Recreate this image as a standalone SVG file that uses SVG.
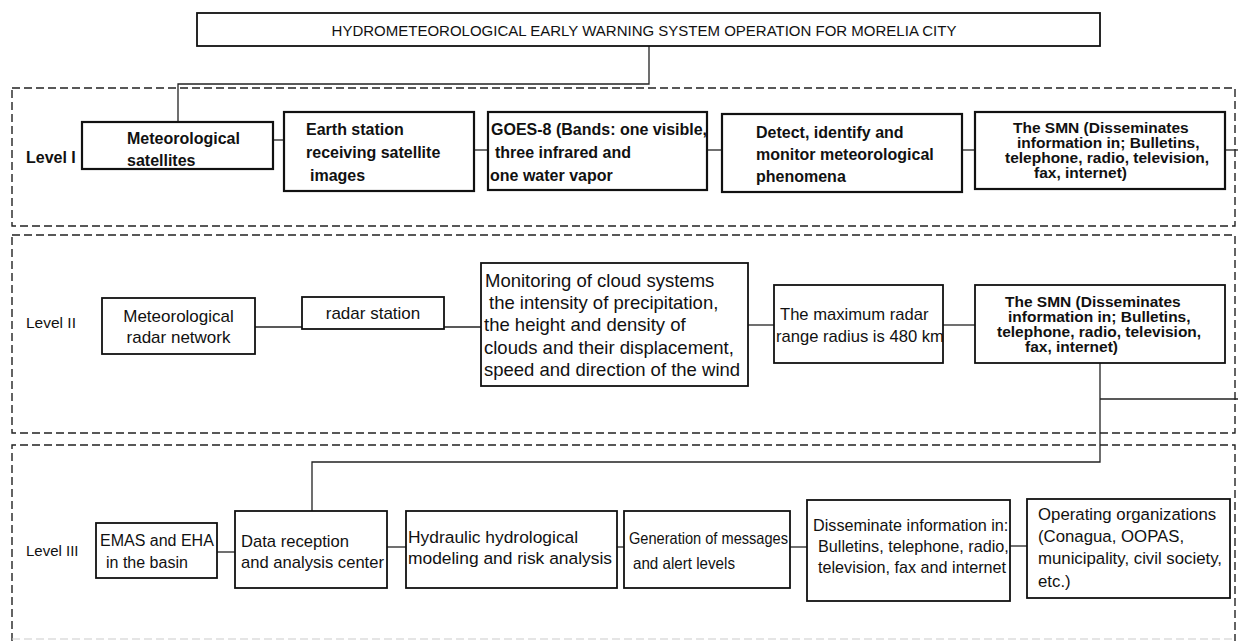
<svg xmlns="http://www.w3.org/2000/svg" width="1238" height="641" viewBox="0 0 1238 641">
<style>
.box{fill:#fff;stroke:#111;stroke-width:1.8}
.boxb{fill:#fff;stroke:#111;stroke-width:2.2}
.lvl{fill:none;stroke:#222;stroke-width:1.4;stroke-dasharray:8 4}
.con{fill:none;stroke:#222;stroke-width:1.3}
text{font-family:"Liberation Sans",Arial,sans-serif;fill:#111}
.b{font-weight:bold;font-size:16px}
.s{font-weight:bold;font-size:15.5px}
.r{font-size:17px}
.t{font-size:15px}
.m{text-anchor:middle}
</style>
<rect width="1238" height="641" fill="#fff"/>
<g id="levels">
<rect class="lvl" x="12" y="88" width="1223" height="138"/>
<rect class="lvl" x="12" y="235" width="1223" height="198"/>
<path class="lvl" d="M12,641 V445 H1235 V641"/>
<line x1="12" y1="639" x2="1235" y2="639" stroke="#ccc" stroke-width="1.2" stroke-dasharray="8 4"/>
<text class="b" x="26" y="163">Level I</text>
<text class="r" x="26" y="328" style="font-size:15.5px">Level II</text>
<text class="r" x="26" y="556" style="font-size:15px">Level III</text>
</g>
<g id="connectors">
<path class="con" d="M649,46 V84 H178 V122"/>
<line class="con" x1="273" y1="140" x2="284" y2="140"/>
<line class="con" x1="474" y1="150" x2="488" y2="150"/>
<line class="con" x1="707" y1="150" x2="722" y2="150"/>
<line class="con" x1="962" y1="150" x2="975" y2="150"/>
<line class="con" x1="1225" y1="150" x2="1238" y2="150"/>
<line class="con" x1="255" y1="327" x2="302" y2="327"/>
<line class="con" x1="444" y1="327" x2="481" y2="327"/>
<line class="con" x1="748" y1="325" x2="774" y2="325"/>
<line class="con" x1="943" y1="325" x2="975" y2="325"/>
<path class="con" d="M1100,363 V462 H312 V511"/>
<line class="con" x1="1100" y1="399" x2="1238" y2="399"/>
<line class="con" x1="217" y1="552" x2="235" y2="552"/>
<line class="con" x1="387" y1="547" x2="406" y2="547"/>
<line class="con" x1="617" y1="547" x2="624" y2="547"/>
<line class="con" x1="790" y1="547" x2="807" y2="547"/>
<line class="con" x1="1010" y1="546" x2="1027" y2="546"/>
</g>
<g id="title">
<rect class="box" x="197" y="13" width="903" height="33"/>
<text class="t m" x="644" y="36">HYDROMETEOROLOGICAL EARLY WARNING SYSTEM OPERATION FOR MORELIA CITY</text>
</g>
<g id="l1-satellites">
<rect class="boxb" x="82" y="122" width="191" height="47"/>
<text class="b" x="127" y="144">Meteorological</text>
<text class="b" x="127" y="166">satellites</text>
</g>
<g id="l1-earth-station">
<rect class="boxb" x="284" y="112" width="190" height="79"/>
<text class="b" x="306" y="135">Earth station</text>
<text class="b" x="306" y="158">receiving satellite</text>
<text class="b" x="310" y="181">images</text>
</g>
<g id="l1-goes">
<rect class="boxb" x="488" y="112" width="219" height="78"/>
<text class="b" x="491" y="135">GOES-8 (Bands: one visible,</text>
<text class="b" x="495" y="158">three infrared and</text>
<text class="b" x="490" y="181">one water vapor</text>
</g>
<g id="l1-detect">
<rect class="boxb" x="722" y="114" width="240" height="78"/>
<text class="b" x="756" y="138">Detect, identify and</text>
<text class="b" x="756" y="160">monitor meteorological</text>
<text class="b" x="756" y="182">phenomena</text>
</g>
<g id="l1-smn">
<rect class="boxb" x="975" y="112" width="250" height="77"/>
<text class="s" x="1013" y="133">The SMN (Disseminates</text>
<text class="s" x="1017" y="148">information in; Bulletins,</text>
<text class="s" x="1005" y="163">telephone, radio, television,</text>
<text class="s" x="1034" y="178">fax, internet)</text>
</g>
<g id="l2-radar-network">
<rect class="box" x="102" y="298" width="153" height="56"/>
<text class="r m" x="178.5" y="322">Meteorological</text>
<text class="r m" x="178.5" y="343">radar network</text>
</g>
<g id="l2-radar-station">
<rect class="box" x="302" y="297" width="142" height="32"/>
<text class="r m" x="373" y="319">radar station</text>
</g>
<g id="l2-monitoring">
<rect class="box" x="481" y="263" width="267" height="123"/>
<g style="font-size:18.5px">
<text x="485" y="287">Monitoring of cloud systems</text>
<text x="489" y="309">the intensity of precipitation,</text>
<text x="484" y="331">the height and density of</text>
<text x="484" y="354">clouds and their displacement,</text>
<text x="484" y="376">speed and direction of the wind</text>
</g>
</g>
<g id="l2-max-range">
<rect class="box" x="774" y="285" width="169" height="78"/>
<text x="780" y="320" style="font-size:16.6px">The maximum radar</text>
<text x="776" y="342" style="font-size:16.6px">range radius is 480 km</text>
</g>
<g id="l2-smn">
<rect class="box" x="975" y="285" width="250" height="78"/>
<text class="s" x="1005" y="307">The SMN (Disseminates</text>
<text class="s" x="1008" y="322">information in; Bulletins,</text>
<text class="s" x="997" y="337">telephone, radio, television,</text>
<text class="s" x="1025" y="352">fax, internet)</text>
</g>
<g id="l3-emas">
<rect class="box" x="96" y="523" width="121" height="55"/>
<text x="100" y="546" style="font-size:16px">EMAS and EHA</text>
<text x="106" y="568" style="font-size:16px">in the basin</text>
</g>
<g id="l3-data-center">
<rect class="box" x="235" y="511" width="152" height="77"/>
<text class="r" x="241" y="547" style="font-size:16.6px">Data reception</text>
<text class="r" x="241" y="568" style="font-size:16.6px">and analysis center</text>
</g>
<g id="l3-hydraulic">
<rect class="box" x="406" y="511" width="211" height="77"/>
<text x="408" y="543" style="font-size:17.4px">Hydraulic hydrological</text>
<text x="408" y="564" style="font-size:17.4px">modeling and risk analysis</text>
</g>
<g id="l3-generation">
<rect class="box" x="624" y="511" width="166" height="77"/>
<text x="629" y="544" style="font-size:16.5px" textLength="159" lengthAdjust="spacingAndGlyphs">Generation of messages</text>
<text x="633" y="569" style="font-size:16.5px" textLength="102" lengthAdjust="spacingAndGlyphs">and alert levels</text>
</g>
<g id="l3-disseminate">
<rect class="box" x="807" y="500" width="203" height="101"/>
<text x="813" y="531" style="font-size:16.2px">Disseminate information in:</text>
<text x="818" y="552" style="font-size:16.2px">Bulletins, telephone, radio,</text>
<text x="818" y="573" style="font-size:16.2px">television, fax and internet</text>
</g>
<g id="l3-operating">
<rect class="box" x="1027" y="499" width="203" height="99"/>
<text x="1038" y="520" style="font-size:16.8px">Operating organizations</text>
<text x="1038" y="542" style="font-size:16.8px">(Conagua, OOPAS,</text>
<text x="1038" y="564" style="font-size:16.8px">municipality, civil society,</text>
<text x="1038" y="587" style="font-size:16.8px">etc.)</text>
</g>
</svg>
